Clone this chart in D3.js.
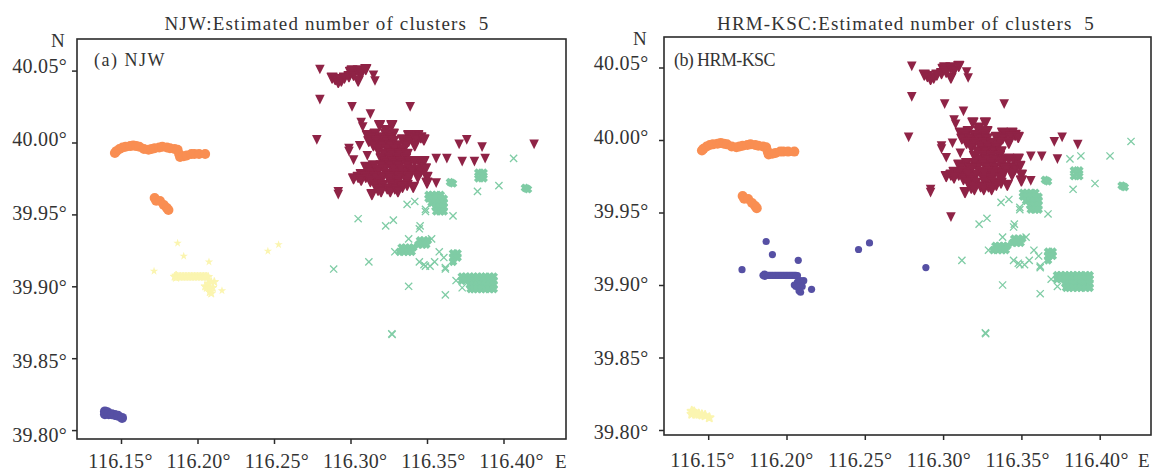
<!DOCTYPE html>
<html><head><meta charset="utf-8">
<script src="https://cdn.jsdelivr.net/npm/d3@7/dist/d3.min.js"></script>
<style>html,body{margin:0;padding:0;background:#fff}svg{display:block}text{font-family:"Liberation Serif",serif;fill:#333;white-space:pre}</style>
</head><body><svg id="c" width="1154" height="473"></svg>
<script>
const lonTicks=[116.15,116.20,116.25,116.30,116.35,116.40];
const latTicks=[39.80,39.85,39.90,39.95,40.00,40.05];
const COLORS={orange:"#f98e52",crimson:"#8f2346",green:"#7fcca5",yellow:"#fbf5b0",blue:"#5650a4"};
// each point: [lon, lat]
const ridge=[[116.146,39.9927],[116.147,39.994],[116.149,39.9955],[116.151,39.9965],[116.153,39.997],[116.156,39.9975],[116.158,39.998],[116.160,39.9975],[116.162,39.997],[116.165,39.9955],[116.168,39.995],[116.170,39.9955],[116.172,39.996],[116.175,39.9965],[116.177,39.997],[116.180,39.9965],[116.182,39.996],[116.185,39.9955],[116.187,39.995],[116.188,39.992],[116.1886,39.990],[116.191,39.9905],[116.193,39.991],[116.196,39.992],[116.198,39.992],[116.201,39.992],[116.205,39.992]];
const ridgeLow=[[116.172,39.9614],[116.173,39.9595],[116.1755,39.9593],[116.178,39.9565],[116.180,39.9545],[116.181,39.953]];
const centralLine=[[116.185,39.9067],[116.186,39.9075],[116.186,39.906],[116.187,39.9067],[116.188,39.9067],[116.189,39.9067],[116.190,39.9067],[116.191,39.9067],[116.192,39.9067],[116.193,39.9067],[116.194,39.9067],[116.195,39.9067],[116.196,39.9067],[116.197,39.9067],[116.198,39.9067],[116.199,39.9067],[116.200,39.9067],[116.201,39.9067],[116.202,39.9067],[116.203,39.9067],[116.204,39.9067],[116.205,39.9067],[116.206,39.9067],[116.207,39.9065],[116.205,39.900],[116.207,39.902],[116.209,39.903],[116.211,39.903],[116.206,39.899],[116.208,39.899],[116.210,39.899],[116.208,39.896],[116.209,39.895]];
const centralOut=[[116.187,39.930],[116.191,39.921],[116.2075,39.917],[116.1716,39.9106],[116.216,39.897],[116.246,39.9245],[116.253,39.929]];
const southBlob=[[116.1395,39.813],[116.141,39.8125],[116.1395,39.811],[116.142,39.811],[116.144,39.811],[116.146,39.8105],[116.148,39.810],[116.1507,39.8085]];
const crimsonIso=[[116.280,40.051],[116.280,40.030],[116.301,40.025],[116.313,40.020],[116.339,40.025],[116.278,40.002],[116.371,39.999],[116.376,40.002],[116.386,39.997],[116.356,39.989],[116.363,39.989],[116.373,39.987],[116.356,39.972],[116.292,39.966],[116.292,39.964],[116.299,39.996],[116.299,39.994],[116.302,39.988],[116.307,40.014],[116.308,40.011],[116.306,39.998],[116.311,39.991],[116.315,40.047],[116.316,40.043]];
const crimsonUpper=[[116.288,40.045],[116.290,40.044],[116.292,40.042],[116.294,40.043],[116.296,40.045],[116.299,40.046],[116.300,40.049],[116.301,40.050],[116.302,40.047],[116.305,40.050],[116.305,40.043],[116.307,40.048],[116.310,40.051]];
const crimsonMain=[[116.319,40.012],[116.327,40.012],[116.323,40.0085],[116.311,40.005],[116.316,40.006],[116.323,40.006],[116.328,40.006],[116.338,40.005],[116.344,40.005],[116.314,40.0035],[116.320,40.0035],[116.326,40.0035],[116.340,40.0035],[116.346,40.0035],[116.312,40.001],[116.317,40.001],[116.323,40.001],[116.328,40.001],[116.334,40.002],[116.338,40.001],[116.343,40.002],[116.348,40.002],[116.342,39.998],[116.336,39.998],[116.315,39.998],[116.320,39.998],[116.326,39.998],[116.331,39.998],[116.318,39.995],[116.324,39.995],[116.329,39.995],[116.334,39.995],[116.322,39.992],[116.327,39.992],[116.332,39.992],[116.337,39.992],[116.320,39.989],[116.326,39.989],[116.331,39.989],[116.336,39.989],[116.323,39.9865],[116.328,39.9865],[116.333,39.9865],[116.339,39.9865],[116.345,39.9865],[116.310,39.983],[116.315,39.984],[116.320,39.984],[116.326,39.984],[116.331,39.984],[116.337,39.984],[116.342,39.987],[116.348,39.987],[116.312,39.981],[116.317,39.981],[116.322,39.981],[116.328,39.981],[116.333,39.981],[116.338,39.981],[116.343,39.981],[116.307,39.978],[116.313,39.978],[116.318,39.980],[116.324,39.978],[116.329,39.978],[116.335,39.978],[116.340,39.980],[116.346,39.980],[116.349,39.982],[116.305,39.976],[116.310,39.976],[116.316,39.976],[116.321,39.976],[116.326,39.976],[116.332,39.976],[116.338,39.976],[116.344,39.976],[116.302,39.975],[116.307,39.974],[116.313,39.973],[116.318,39.973],[116.326,39.973],[116.331,39.973],[116.337,39.973],[116.316,39.9705],[116.321,39.9705],[116.327,39.9705],[116.332,39.9705],[116.337,39.9705],[116.341,39.969],[116.350,39.976],[116.350,39.972],[116.314,39.964],[116.318,39.967],[116.324,39.968],[116.329,39.968],[116.334,39.969],[116.320,39.966],[116.326,39.966],[116.331,39.966]];
// boundary points whose cluster differs between the two methods
const crimsonToGreen=[[116.381,39.987],[116.388,39.989],[116.420,39.999]];
const greenToCrimson=[[116.305,39.947]];
const greenToBlue=[[116.289,39.912]];
const greenSparse=[[116.323,39.942],[116.328,39.946],[116.312,39.917],[116.338,39.900],[116.362,39.894],[116.327,39.867],[116.3272,39.8665],[116.337,39.957],[116.342,39.959],[116.349,39.952],[116.349,39.9535],[116.367,39.949],[116.345,39.940],[116.3455,39.942],[116.338,39.933],[116.358,39.924],[116.361,39.920],[116.355,39.917],[116.345,39.917],[116.349,39.914],[116.352,39.914],[116.362,39.913],[116.362,39.912],[116.369,39.904],[116.373,39.899],[116.329,39.924],[116.353,39.933],[116.397,39.970],[116.383,39.966],[116.348,39.915],[116.4066,39.989]];
const greenDense=[[116.366,39.972],[116.3650,39.9725],[116.367,39.9715],[116.415,39.968],[116.414,39.9685],[116.416,39.9675],[116.3835,39.979],[116.387,39.979],[116.3855,39.977],[116.3835,39.975],[116.387,39.975],
[116.351,39.9636],[116.3535,39.9636],[116.356,39.9636],[116.359,39.9636],[116.351,39.961],[116.3535,39.961],[116.356,39.961],[116.359,39.961],[116.361,39.961],[116.353,39.958],[116.3555,39.958],[116.358,39.958],[116.361,39.958],[116.3555,39.955],[116.358,39.955],[116.361,39.955],[116.356,39.952],[116.359,39.952],[116.361,39.952],
[116.3727,39.9068],[116.3753,39.9068],[116.378,39.9068],[116.3805,39.9068],[116.383,39.9068],[116.3857,39.9068],[116.388,39.9068],[116.391,39.9068],[116.3936,39.9068],[116.3727,39.904],[116.3753,39.904],[116.378,39.904],[116.3805,39.904],[116.383,39.904],[116.3857,39.904],[116.388,39.904],[116.391,39.904],[116.3936,39.904],[116.378,39.901],[116.3805,39.901],[116.383,39.901],[116.3857,39.901],[116.388,39.901],[116.391,39.901],[116.3936,39.901],[116.3785,39.898],[116.3805,39.898],[116.383,39.898],[116.3857,39.898],[116.388,39.898],[116.391,39.898],[116.3936,39.898],
[116.3334,39.927],[116.336,39.927],[116.3386,39.927],[116.341,39.927],[116.332,39.924],[116.335,39.924],[116.3376,39.924],[116.340,39.924],[116.3454,39.932],[116.348,39.932],[116.3506,39.932],[116.3443,39.929],[116.347,39.929],[116.3495,39.929],
[116.367,39.923],[116.370,39.923],[116.367,39.920],[116.370,39.920],[116.367,39.917]];

const panels=[
 {label:"(a) NJW",labelSp:1.5,title:"NJW:Estimated number of clusters  5",frame:[77,566,39,439],x0:121,xk:1530,y0:142.5,yk:1438,titleX:327,labelX:94,nX:51,nY:47,eX:555,
  xl:[120,511],yl:[139.5,435],yEnd:67,xBase:468,
  layers:[["green","x",greenSparse.concat(greenToCrimson,greenToBlue),1.3],["green","x3",greenDense,3.8],["yellow","star",centralLine,1],["yellow","star",centralOut,0],["blue","circle",southBlob,5],["orange","circle",ridge.concat(ridgeLow),5],["crimson","tri",crimsonIso.concat(crimsonToGreen),0],["crimson","tri",crimsonUpper.concat(crimsonMain),1.5]]},
 {label:"(b) HRM-KSC",labelSp:-0.6,title:"HRM-KSC:Estimated number of clusters  5",frame:[664,1151,37,435],x0:708.2,xk:1566,y0:140,yk:1450,titleX:906,labelX:674,nX:633,nY:45,eX:1138,
  xl:[702,1096],yl:[137,431.7],yEnd:648.5,xBase:467,
  layers:[["green","x",greenSparse.concat(crimsonToGreen),1.3],["green","x3",greenDense,3.8],["yellow","star",southBlob,2],["blue","circle",centralLine.concat(centralOut,greenToBlue),3.6],["orange","circle",ridge.concat(ridgeLow),5],["crimson","tri",crimsonIso.concat(greenToCrimson),0],["crimson","tri",crimsonUpper.concat(crimsonMain),1.5]]}
];
const svg=d3.select("#c");
const star=d3.symbol().type(d3.symbolStar).size(22)();
const tri="M-4.8,-4.5L4.8,-4.5L0,5.2Z";
panels.forEach(p=>{
  const [L,R,T,B]=p.frame;
  const x=d3.scaleLinear().domain([116.15,116.40]).range([p.x0,p.x0+0.25*p.xk]);
  const y=d3.scaleLinear().domain([40,39.80]).range([p.y0,p.y0+0.2*p.yk]);
  const xLab=d3.scaleLinear().domain([116.15,116.40]).range(p.xl);
  const yLab=d3.scaleLinear().domain([40,39.80]).range(p.yl);
  const g=svg.append("g");
  g.append("text").attr("x",p.titleX).attr("y",30).attr("text-anchor","middle").style("font-size","19px").style("letter-spacing","1.15px").text(p.title);
  p.layers.forEach(([c,kind,pts,w])=>{
    const col=COLORS[c];
    const s=g.append("g").selectAll("g").data(pts).join("g").attr("transform",d=>`translate(${x(d[0])},${y(d[1])})`);
    if(kind==="circle") s.append("circle").attr("r",w).attr("fill",col);
    if(kind==="tri") s.append("path").attr("d",tri).attr("fill",col).attr("stroke",col).attr("stroke-width",w).attr("stroke-linejoin","round");
    if(kind==="star") s.append("path").attr("d",star).attr("fill",col).attr("stroke",col).attr("stroke-width",w).attr("stroke-linejoin","round");
    if(kind==="x") s.append("path").attr("d","M-3.6,-3.6L3.6,3.6M-3.6,3.6L3.6,-3.6").attr("stroke",col).attr("stroke-width",w).attr("fill","none");
    if(kind==="x3") s.append("path").attr("d","M-3,-3L3,3M-3,3L3,-3").attr("stroke",col).attr("stroke-width",w).attr("fill","none");
  });
  g.append("rect").attr("x",L).attr("y",T).attr("width",R-L).attr("height",B-T).attr("fill","none").attr("stroke","#2b2b2b").attr("stroke-width",1.6);
  const xa=g.append("g").attr("transform",`translate(0,${B})`).call(d3.axisBottom(x).tickValues(lonTicks).tickSize(5).tickFormat(d=>d3.format(".2f")(d)+"°"));
  const ya=g.append("g").attr("transform",`translate(${L},0)`).call(d3.axisLeft(y).tickValues(latTicks).tickSize(5).tickFormat(d=>d3.format(".2f")(d)+"°"));
  [xa,ya].forEach(a=>{a.select(".domain").remove();a.selectAll("line").attr("stroke","#2b2b2b").attr("stroke-width",1.5);a.selectAll("text").style("font-family",'"Liberation Serif",serif').style("font-size","20px").style("letter-spacing","0.3px").attr("fill","#333");});
  xa.selectAll("text").attr("x",d=>xLab(d)-x(d)).attr("y",p.xBase-B).attr("dy",0);
  ya.selectAll("text").attr("x",p.yEnd-L).attr("y",d=>yLab(d)-y(d)).attr("dy","0.32em");
  g.append("text").attr("x",p.nX).attr("y",p.nY).style("font-size","19px").text("N");
  g.append("text").attr("x",p.eX).attr("y",p.xBase).style("font-size","19px").text("E");
  g.append("text").attr("x",p.labelX).attr("y",66).style("font-size","18px").style("letter-spacing",p.labelSp+"px").text(p.label);
});
</script></body></html>
